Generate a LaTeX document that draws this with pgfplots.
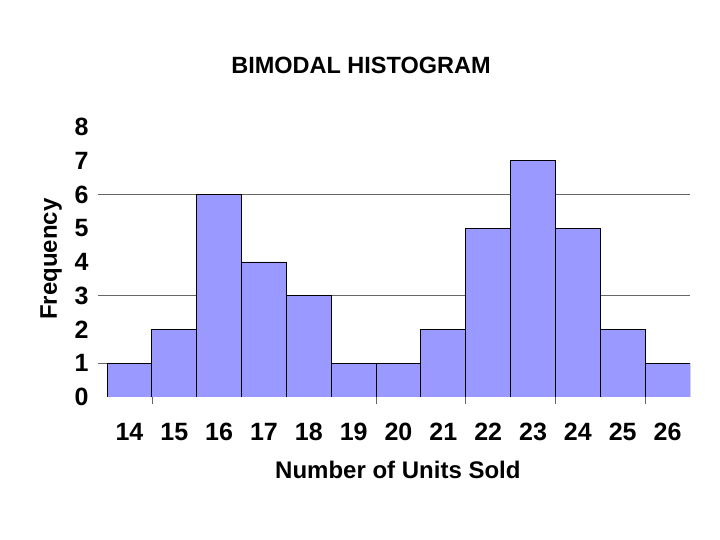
\documentclass[border=0pt]{standalone}
\usepackage{fontspec}
\setmainfont{Liberation Sans}
\newfontfamily\seriffont{Liberation Serif}
\usepackage{pgfplots}
\pgfplotsset{compat=1.18}
\definecolor{barfill}{HTML}{9999FF}
\begin{document}
\begin{tikzpicture}
\path[use as bounding box] (0,0) rectangle (720bp,540bp);
\begin{axis}[
  at={(107bp,143bp)}, anchor=south west,
  scale only axis, width=583bp, height=270bp,
  xmin=13.5, xmax=26.5, ymin=0, ymax=8,
  axis line style={draw=none},
  xtick pos=bottom, ytick pos=left,
  xtick={14,...,26}, ytick={0,...,8},
  major tick length=0pt,
  /pgf/number format/assume math mode=true,
  tick label style={font=\fontsize{25bp}{29bp}\selectfont\bfseries},
  yticklabel style={xshift=-15bp},
  xticklabel style={yshift=-23bp},
  extra y ticks={1,3,6},
  extra y tick labels={},
  extra y tick style={grid=major, tick align=outside, major tick length=9bp,
     tick style={gray!80!black, line width=0.8pt}, major grid style={gray!80!black, line width=0.8pt}},
  extra x ticks={14.5,19.5,21.5,23.5,25.5},
  extra x tick labels={},
  extra x tick style={tick align=outside, major tick length=7bp,
     tick style={gray!80!black, line width=0.6pt}},
  title={BIMODAL HISTOGRAM},
  title style={at={(axis description cs:0.4357,1.207)}, anchor=center, font=\fontsize{23.5bp}{27bp}\selectfont\bfseries},
  xlabel={Number of Units Sold},
  xlabel style={at={(axis description cs:0.499,-0.270)}, anchor=center, font=\fontsize{24bp}{28bp}\selectfont\bfseries},
  ylabel={Frequency},
  ylabel style={at={(axis description cs:-0.096,0.511)}, anchor=center, rotate=0, font=\fontsize{24bp}{28bp}\selectfont\bfseries},
]
\addplot[ybar, bar width=1, bar shift=0pt, fill=barfill, draw=black, line width=1pt]
  coordinates {(14,1) (15,2) (16,6) (17,4) (18,3) (19,1) (20,1) (21,2) (22,5) (23,7) (24,5) (25,2) (26,1)};
\node[font=\seriffont\fontsize{13bp}{15bp}\selectfont] at (axis description cs:0.933,-0.404) {21};
\end{axis}
\end{tikzpicture}
\end{document}
